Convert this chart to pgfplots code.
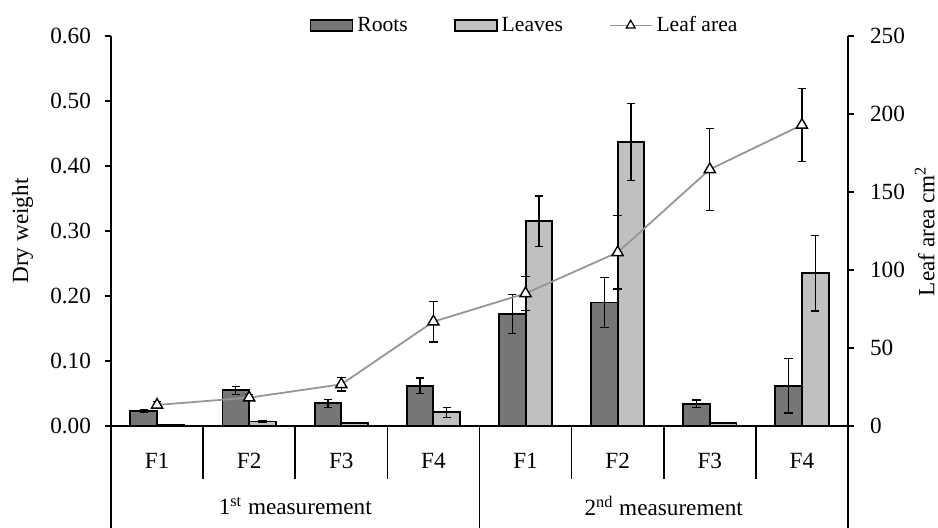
\documentclass[border=0pt]{standalone}
\usepackage{pgfplots}
\pgfplotsset{compat=1.18}
\usepackage{pgfplotstable}
\usepackage{fontspec}
\setmainfont{Liberation Serif}

\definecolor{rootsgray}{RGB}{118,118,118}
\definecolor{leavesgray}{RGB}{192,192,192}
\definecolor{linegray}{RGB}{150,150,150}

% x: 0-3 first measurement F1-F4, 4-7 second measurement F1-F4
\pgfplotstableread{
x roots rerr  leaves lerr  area  aerr
0 0.023 0.002 0.002 0.0005 13.5 2.0
1 0.055 0.006 0.007 0.001  18.2 2.0
2 0.035 0.006 0.005 0.001  26.7 4.3
3 0.062 0.012 0.021 0.008  66.9 13.0
4 0.172 0.030 0.315 0.039  85.0 11.0
5 0.190 0.039 0.437 0.059  111.3 23.5
6 0.034 0.006 0.005 0.001  164.5 26.3
7 0.062 0.042 0.235 0.058  193.0 23.3
}\data

\pgfplotsset{
  base/.style={
    width=368.5pt, height=195pt, scale only axis,
    xmin=-0.5, xmax=7.5,
    axis line style={line width=0.8pt},
    every tick/.style={black, line width=0.8pt},
    tick align=outside, major tick length=3pt,
    /pgf/number format/assume math mode=true,
    tick label style={font=\fontsize{11.6}{13}\selectfont},
    clip=false,
  },
  errs/.style={
    error bars/.cd, y dir=both, y explicit,
    error bar style={black, line width=0.6pt},
    error mark options={rotate=90, black, line width=0.6pt, mark size=2.1pt},
  },
  bars/.style={
    ybar, bar width=0.29, bar shift=0pt, draw=black, line width=0.95pt,
    legend image code/.code={\draw[##1] (0pt,-2.75pt) rectangle (21pt,2.75pt);},
  },
  tri legend/.style={
    legend image code/.code={\draw[##1, mark repeat=2, mark phase=2] plot coordinates {(0pt,0pt) (10.5pt,0pt) (21pt,0pt)};}
  },
}

\begin{document}
\begin{tikzpicture}[font=\fontsize{11.6}{13}\selectfont]
\begin{axis}[base,
  axis x line*=bottom, axis y line*=left,
  ymin=0, ymax=0.6,
  ytick={0,0.1,0.2,0.3,0.4,0.5,0.6},
  yticklabel style={xshift=-3.5pt, /pgf/number format/.cd, fixed, fixed zerofill, precision=2},
  xtick={0,...,7},
  xticklabels={F1,F2,F3,F4,F1,F2,F3,F4},
  xtick style={draw=none},
  xticklabel style={anchor=center, yshift=-14.5pt},
  ylabel={Dry weight},
  every axis y label/.style={at={(axis description cs:-0.12,0.5)}, rotate=90, anchor=center},
  legend style={draw=none, fill=none, at={(axis description cs:0.5624,1.027)}, anchor=center,
    font=\fontsize{10.8}{12}\selectfont, inner sep=0pt,
    /tikz/every even column/.append style={column sep=21pt}},
  legend columns=3,
  legend cell align=left,
]
\addplot[bars, fill=rootsgray, errs]
  table[x expr=\thisrow{x}-0.145, y=roots, y error=rerr]{\data};
\addlegendentry{Roots}
\addplot[bars, fill=leavesgray, errs]
  table[x expr=\thisrow{x}+0.145, y=leaves, y error=lerr]{\data};
\addlegendentry{Leaves}
\addlegendimage{linegray, line width=0.8pt, mark=triangle*, mark size=2.6pt,
  mark options={fill=white, draw=black, line width=0.6pt}, tri legend}
\addlegendentry{Leaf area}
\end{axis}

\begin{axis}[base,
  axis x line=none, axis y line*=right,
  ymin=0, ymax=250,
  ytick={0,50,100,150,200,250},
  yticklabel style={xshift=4.5pt},
  ylabel={Leaf area cm\textsuperscript{2}},
  every axis y label/.style={at={(axis description cs:1.104,0.5)}, rotate=90, anchor=center},
]
\addplot[linegray, line width=0.9pt, mark=triangle*, mark size=3.2pt,
  mark options={fill=white, draw=black, line width=0.7pt, solid},
  errs] table[x=x, y=area, y error=aerr]{\data};
\end{axis}

% category separators below the x axis
\foreach \k in {1,2,3,5,6,7}
  \draw[line width=0.8pt] (46.0625pt*\k,0) -- ++(0,-26.5pt);
\foreach \k in {0,4,8}
  \draw[line width=0.8pt] (46.0625pt*\k,0) -- ++(0,-51pt);
\node at (92.125pt,-40pt) {1\textsuperscript{st} measurement};
\node at (276.375pt,-40pt) {2\textsuperscript{nd} measurement};

\pgfresetboundingbox
\useasboundingbox (-55.5pt,-50.5pt) rectangle (413.5pt,213pt);
\end{tikzpicture}
\end{document}
